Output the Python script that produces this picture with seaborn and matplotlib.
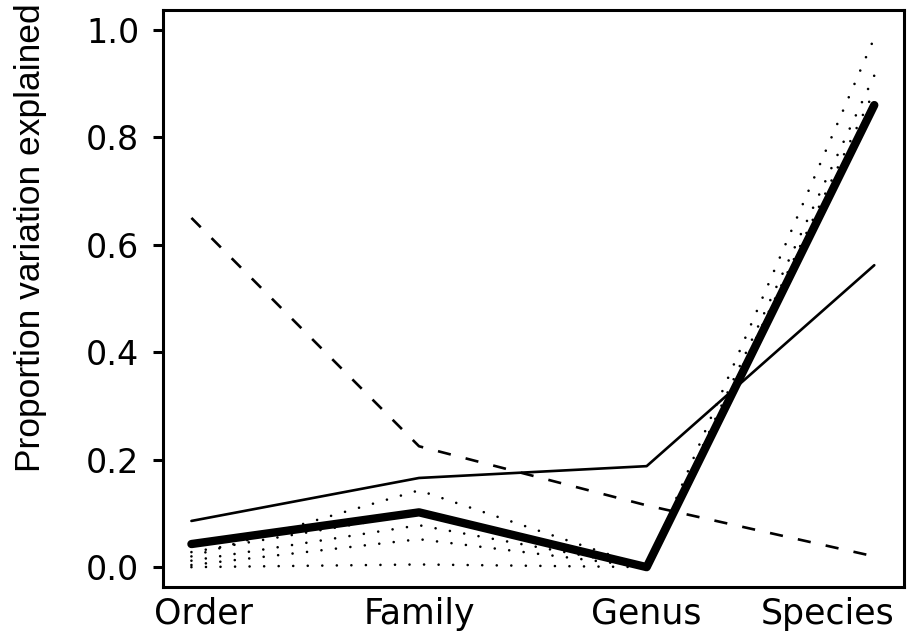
import seaborn as sns
import matplotlib.pyplot as plt
import matplotlib.transforms as mtransforms

levels = ['Order', 'Family', 'Genus', 'Species']

# main series
thick_solid = [0.043, 0.102, 0.0, 0.86]
thin_solid = [0.086, 0.166, 0.188, 0.562]
dashed = [0.65, 0.225, 0.115, 0.02]

# dotted series
dotted = [
    [0.02, 0.143, 0.0, 0.985],
    [0.012, 0.078, 0.0, 0.915],
    [0.004, 0.052, 0.0, 0.886],
    [0.0, 0.005, 0.0, 0.865],
    [0.028, 0.10, 0.003, 0.87],
]

sns.set_theme(style='white')
plt.rcParams['font.family'] = ['DejaVu Sans']

fig = plt.figure(figsize=(9.13, 6.41), dpi=100)
ax = fig.add_axes([0.1785, 0.0842, 0.8115, 0.9002])

for vals in dotted:
    sns.lineplot(x=levels, y=vals, ax=ax, color='black', linewidth=1.9,
                 linestyle=(0, (0.01, 5.5)), dash_capstyle='round')

sns.lineplot(x=levels, y=dashed, ax=ax, color='black', linewidth=1.9,
             linestyle=(0, (5.0, 5.8)))
sns.lineplot(x=levels, y=thin_solid, ax=ax, color='black', linewidth=1.9)
sns.lineplot(x=levels, y=thick_solid, ax=ax, color='black', linewidth=6,
             solid_capstyle='round', solid_joinstyle='round')

ax.set_xlim(-0.125, 3.13)
ax.set_ylim(-0.037, 1.037)
ax.set_yticks([0.0, 0.2, 0.4, 0.6, 0.8, 1.0])
ax.set_yticklabels(['0.0', '0.2', '0.4', '0.6', '0.8', '1.0'])

for s in ax.spines.values():
    s.set_color('black')
    s.set_linewidth(2.2)

ax.tick_params(axis='y', length=7, width=2.2, pad=10, labelsize=24,
               colors='black', left=True)
ax.tick_params(axis='x', length=0, pad=7, labelsize=25, colors='black')

# shift the edge labels inward like the original
shifts = {'Order': 12, 'Species': -47}
for lbl in ax.get_xticklabels():
    dx = shifts.get(lbl.get_text(), 0)
    if dx:
        off = mtransforms.ScaledTranslation(dx / 100, 0, fig.dpi_scale_trans)
        lbl.set_transform(lbl.get_transform() + off)

ax.set_xlabel('')
ax.set_ylabel('Proportion variation explained', fontsize=25.5, color='black',
              family=['Liberation Sans', 'DejaVu Sans'])
ax.yaxis.set_label_coords(-0.157, 0.605)

fig.savefig('out.png', dpi=100)
